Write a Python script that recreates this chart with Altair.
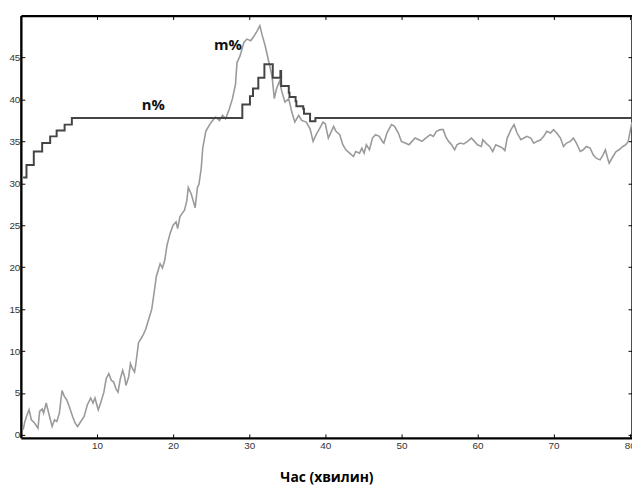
import altair as alt
import pandas as pd

# m% (grey noisy curve)
m_t = [0.3, 0.5, 0.74, 1.08, 1.38, 1.82, 2.25, 2.47, 2.81, 2.99, 3.33, 3.77, 4.11, 4.42, 4.72,
       5.06, 5.41, 5.71, 6.02, 6.36, 6.8, 7.14, 7.45, 7.88, 8.31, 8.74, 9.18, 9.48, 9.74, 10.17,
       10.48, 10.91, 11.21, 11.56, 11.9, 12.2, 12.5, 12.77, 13.07, 13.38, 13.64, 13.81, 14.16, 14.4,
       14.67, 14.94, 15.1, 15.46, 15.8, 16.1, 16.4, 16.8, 17.2, 17.5, 17.8, 18.3, 18.6, 18.9, 19.2,
       19.6, 20.0, 20.4, 20.6, 20.9, 21.1, 21.5, 21.8, 22.0, 22.4, 22.9, 23.2, 23.4, 23.7, 23.9,
       24.3, 24.8, 25.2, 25.6, 26.1, 26.5, 26.9, 27.4, 27.8, 28.2, 28.4, 28.8, 29.3, 29.7, 30.2,
       30.6, 31.0, 31.4, 31.7, 32.1, 32.5, 33.0, 33.3, 33.6, 34.0, 34.3, 34.7, 35.2, 35.6, 36.0,
       36.5, 36.9, 37.5, 38.0, 38.4, 38.8, 39.3, 39.7, 40.0, 40.4, 40.8, 41.1, 41.4, 41.9, 42.3,
       42.7, 43.2, 43.7, 44.0, 44.5, 44.8, 45.1, 45.4, 45.8, 46.2, 46.6, 47.1, 47.5, 47.7, 48.1,
       48.7, 49.1, 49.6, 50.0, 50.5, 51.0, 51.4, 51.8, 52.3, 52.7, 53.2, 53.8, 54.2, 54.6, 55.1,
       55.5, 55.8, 56.2, 56.6, 57.0, 57.3, 57.7, 58.2, 58.7, 59.2, 59.6, 60.0, 60.5, 60.7, 61.1,
       61.6, 62.0, 62.4, 62.9, 63.3, 63.6, 63.9, 64.4, 64.8, 65.2, 65.7, 66.1, 66.5, 67.0, 67.4,
       67.8, 68.3, 68.7, 69.1, 69.6, 70.0, 70.4, 70.9, 71.3, 71.7, 72.2, 72.6, 73.0, 73.5, 73.9,
       74.3, 74.8, 75.2, 75.6, 76.1, 76.5, 76.8, 77.1, 77.3, 77.8, 78.2, 78.6, 79.1, 79.5, 79.8,
       80.1, 80.3]
m_val = [0.6, 1.5, 2.2, 3.0, 1.8, 1.4, 0.8, 2.8, 3.1, 2.6, 3.8, 2.2, 1.0, 1.8, 1.6,
         2.6, 5.3, 4.6, 4.2, 3.4, 2.2, 1.4, 1.0, 1.6, 2.2, 3.6, 4.4, 3.8, 4.4, 3.0,
         3.8, 5.1, 6.7, 7.3, 6.5, 6.3, 5.5, 5.1, 6.7, 7.7, 6.9, 5.9, 6.9, 8.5,
         7.9, 7.5, 8.4, 11.0, 11.5, 12.0, 12.6, 13.8, 15.0, 16.9, 18.9, 20.4, 19.9, 20.8, 22.6,
         24.0, 25.0, 25.4, 24.6, 26.0, 26.3, 26.8, 27.9, 29.5, 28.7, 27.1, 29.5, 29.9, 31.8, 34.2,
         36.2, 37.0, 37.5, 37.9, 37.5, 38.1, 37.7, 38.9, 40.1, 41.8, 44.4, 45.2, 46.8, 47.2, 47.0,
         47.5, 48.1, 48.8, 47.7, 46.4, 44.8, 42.8, 40.1, 41.3, 42.2, 40.9, 39.7, 40.1, 38.5, 37.3,
         38.1, 37.5, 37.3, 36.5, 35.0, 35.8, 36.6, 37.3, 37.1, 35.4, 36.2, 36.8, 36.2, 35.8, 34.6,
         34.0, 33.6, 33.2, 33.8, 33.6, 34.2, 33.6, 34.6, 34.0, 35.4, 35.8, 35.6, 35.0, 34.8, 36.0,
         37.0, 36.8, 36.0, 35.0, 34.8, 34.6, 35.0, 35.4, 35.2, 35.0, 35.4, 35.8, 35.6, 36.2, 36.4,
         36.4, 35.6, 35.0, 34.6, 34.0, 34.6, 34.8, 34.7, 35.0, 35.4, 35.0, 34.6, 34.4, 35.2, 34.8,
         34.4, 33.8, 34.6, 34.4, 34.2, 33.9, 35.4, 36.4, 37.0, 36.0, 35.2, 35.4, 35.6, 35.4, 34.8,
         35.0, 35.2, 35.6, 36.2, 36.0, 36.4, 36.0, 35.4, 34.4, 34.8, 35.0, 35.4, 34.8, 33.8, 34.0,
         34.4, 34.2, 33.4, 33.0, 32.8, 33.4, 34.0, 33.0, 32.4, 33.2, 33.8, 34.0, 34.4, 34.6, 35.0,
         36.4, 37.3]

# n% (step curve): change times and levels
n_t = [0.3, 0.74, 1.7, 2.8, 3.85, 4.7, 5.75, 6.7, 29.1, 30.1, 30.5, 31.2, 32.0, 33.1,
       34.1, 34.2, 35.2, 35.3, 36.1, 36.2, 37.1, 37.2, 38.0, 38.7, 80.3]
n_val = [30.7, 32.2, 33.8, 34.8, 35.6, 36.3, 37.0, 37.8, 39.4, 40.4, 41.3, 42.6, 44.2, 42.6,
         43.4, 41.6, 40.8, 40.3, 39.8, 39.2, 38.9, 38.3, 37.4, 37.8, 37.8]

label_text = ["m%", "n%"]
label_x = [27.2, 17.4]
label_y = [46.5, 39.3]

x_ticks = [10, 20, 30, 40, 50, 60, 70, 80]
y_ticks = [0, 5, 10, 15, 20, 25, 30, 35, 40, 45]

W, H = 618, 427

m_df = pd.DataFrame({"t": m_t, "v": m_val})
n_df = pd.DataFrame({"t": n_t, "v": n_val})
lab_df = pd.DataFrame({"label": label_text, "t": label_x, "v": label_y})

xs = alt.Scale(domain=[0, 80.3], nice=False, zero=False)
ys = alt.Scale(domain=[-0.35, 50], nice=False, zero=False)

lab_font = "Liberation Sans"
FRAME = "#000000"
dom = dict(domain=True, domainColor=FRAME, domainWidth=2.4, domainOpacity=1, ticks=False,
           grid=False)
tk = dict(domain=False, offset=-4, tickSize=4, tickColor="#000", tickWidth=1, grid=False,
          labels=False, title=None)

x_bottom = alt.Axis(values=x_ticks, labelFont=lab_font, labelFontSize=10, labelColor="#333",
                    labelPadding=3, title="Час (хвилин)", titleFont="Open Sans",
                    titleFontSize=14, titleFontWeight="bold", titleColor="#000",
                    titlePadding=20, **dom)
y_left = alt.Axis(values=y_ticks, labelFont=lab_font, labelFontSize=10, labelColor="#333",
                  labelPadding=1, title=None, **dom)
x_top = alt.Axis(orient="top", values=x_ticks, labels=False, title=None, **dom)
y_right = alt.Axis(orient="right", values=y_ticks, labels=False, title=None, **dom)
x_bottom_t = alt.Axis(values=x_ticks, **tk)
y_left_t = alt.Axis(values=y_ticks, **tk)
x_top_t = alt.Axis(orient="top", values=x_ticks, **tk)
y_right_t = alt.Axis(orient="right", values=y_ticks, **tk)

m_line = alt.Chart(m_df).mark_line(color="#9a9a9a", strokeWidth=1.6, clip=True).encode(
    x=alt.X("t:Q", scale=xs, axis=x_bottom),
    y=alt.Y("v:Q", scale=ys, axis=y_left),
)
n_line = alt.Chart(n_df).mark_line(color="#444", strokeWidth=2, interpolate="step-after",
                                   clip=True).encode(
    x=alt.X("t:Q", scale=xs, axis=x_top),
    y=alt.Y("v:Q", scale=ys, axis=y_right),
)
labels = alt.Chart(lab_df).mark_text(font="Open Sans", fontSize=15, fontWeight="bold",
                                     color="#111").encode(
    x=alt.X("t:Q", scale=xs, axis=x_bottom_t),
    y=alt.Y("v:Q", scale=ys, axis=y_left_t),
    text="label:N",
)
ticks_layer = alt.Chart(lab_df).mark_point(opacity=0).encode(
    x=alt.X("t:Q", scale=xs, axis=x_top_t),
    y=alt.Y("v:Q", scale=ys, axis=y_right_t),
)

chart = alt.layer(m_line, n_line, labels, ticks_layer).resolve_axis(
    x="independent", y="independent").properties(
    width=W, height=H,
    background="white",
    autosize=alt.AutoSizeParams(type="none"),
    padding={"left": 13, "top": 5, "right": 0, "bottom": 48},
).configure_view(stroke=None)

chart.save("out.html", embed_options={"renderer": "svg", "actions": False})
